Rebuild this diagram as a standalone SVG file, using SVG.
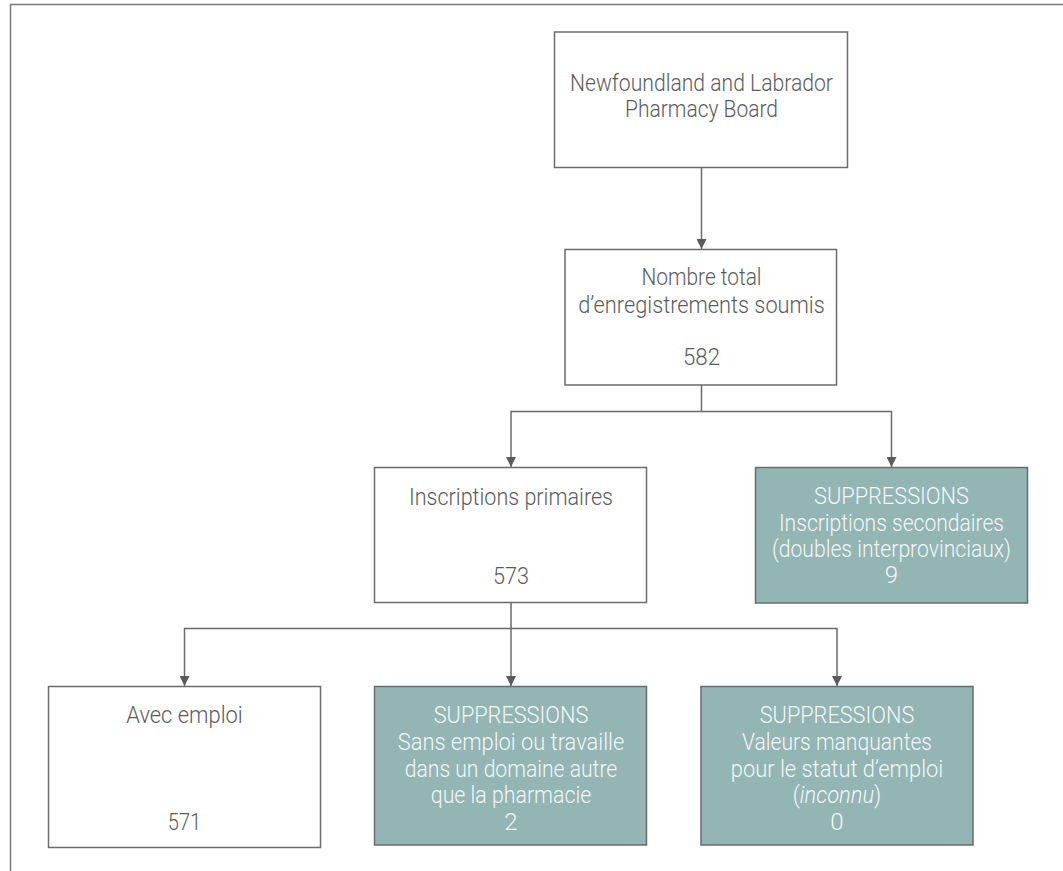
<svg xmlns="http://www.w3.org/2000/svg" width="1063" height="871" viewBox="0 0 1063 871">
<style>
.box{fill:#ffffff;stroke:#6b6b6b;stroke-width:1.5}
.sup{fill:#93b5b4;stroke:#6b6b6b;stroke-width:1.5}
.t{font-family:Roboto,"Liberation Sans",sans-serif;font-weight:300;font-size:24px;text-anchor:middle;fill:#5b5b5b}
.w{fill:#f4f7f7}
.ln{fill:none;stroke:#6b6b6b;stroke-width:1.5}
</style>
<defs>
<marker id="ah" markerWidth="10" markerHeight="10" refX="10" refY="5" orient="auto" markerUnits="userSpaceOnUse" viewBox="0 0 10 10">
<path d="M0,0 L10,5 L0,10 Z" fill="#5b5b5b"/>
</marker>
</defs>
<g id="frame">
<path d="M10.5,871 L10.5,4.5 L1063,4.5" fill="none" stroke="#7a7a7a" stroke-width="1.5"/>
</g>
<g id="connectors">
<line class="ln" x1="701.5" y1="167.5" x2="701.5" y2="249" marker-end="url(#ah)"/>
<polyline class="ln" points="701.5,385 701.5,411.5 511,411.5 511,467" marker-end="url(#ah)"/>
<polyline class="ln" points="701.5,411.5 891.5,411.5 891.5,467" marker-end="url(#ah)"/>
<polyline class="ln" points="511,602.5 511,628.5 184.5,628.5 184.5,686" marker-end="url(#ah)"/>
<line class="ln" x1="511" y1="628.5" x2="511" y2="686" marker-end="url(#ah)"/>
<polyline class="ln" points="511,628.5 837,628.5 837,686" marker-end="url(#ah)"/>
</g>
<g id="n1">
<rect class="box" x="554.5" y="32" width="293" height="135.5"/>
<text class="t" x="701.5" y="90.5" textLength="263" lengthAdjust="spacingAndGlyphs">Newfoundland and Labrador</text>
<text class="t" x="701.5" y="117" textLength="153" lengthAdjust="spacingAndGlyphs">Pharmacy Board</text>
</g>
<g id="n2">
<rect class="box" x="565" y="249.5" width="271.5" height="135.5"/>
<text class="t" x="701.5" y="285" textLength="120" lengthAdjust="spacingAndGlyphs">Nombre total</text>
<text class="t" x="701.5" y="312.5" textLength="246.5" lengthAdjust="spacingAndGlyphs">d’enregistrements soumis</text>
<text class="t" x="701.5" y="365" textLength="37" lengthAdjust="spacingAndGlyphs">582</text>
</g>
<g id="n3">
<rect class="box" x="374.5" y="467.5" width="272" height="135"/>
<text class="t" x="511" y="505" textLength="204" lengthAdjust="spacingAndGlyphs">Inscriptions primaires</text>
<text class="t" x="511" y="584" textLength="36" lengthAdjust="spacingAndGlyphs">573</text>
</g>
<g id="n4">
<rect class="sup" x="755.5" y="467.5" width="272" height="135.5"/>
<text class="t w" x="891.5" y="504" textLength="155" lengthAdjust="spacingAndGlyphs">SUPPRESSIONS</text>
<text class="t w" x="891.5" y="530.5" textLength="225" lengthAdjust="spacingAndGlyphs">Inscriptions secondaires</text>
<text class="t w" x="891.5" y="556.5" textLength="239" lengthAdjust="spacingAndGlyphs">(doubles interprovinciaux)</text>
<text class="t w" x="891.5" y="583">9</text>
</g>
<g id="n5">
<rect class="box" x="48.5" y="686.5" width="272" height="161"/>
<text class="t" x="184.5" y="722.5" textLength="116.5" lengthAdjust="spacingAndGlyphs">Avec emploi</text>
<text class="t" x="184.5" y="830" textLength="33.5" lengthAdjust="spacingAndGlyphs">571</text>
</g>
<g id="n6">
<rect class="sup" x="374.5" y="686.5" width="272" height="158.5"/>
<text class="t w" x="511" y="722.5" textLength="154.5" lengthAdjust="spacingAndGlyphs">SUPPRESSIONS</text>
<text class="t w" x="511" y="749.5" textLength="226.5" lengthAdjust="spacingAndGlyphs">Sans emploi ou travaille</text>
<text class="t w" x="511" y="776.5" textLength="212.5" lengthAdjust="spacingAndGlyphs">dans un domaine autre</text>
<text class="t w" x="511" y="803" textLength="160.5" lengthAdjust="spacingAndGlyphs">que la pharmacie</text>
<text class="t w" x="511" y="830">2</text>
</g>
<g id="n7">
<rect class="sup" x="701" y="686.5" width="272" height="158.5"/>
<text class="t w" x="837" y="722.5" textLength="154.5" lengthAdjust="spacingAndGlyphs">SUPPRESSIONS</text>
<text class="t w" x="837" y="749.5" textLength="190" lengthAdjust="spacingAndGlyphs">Valeurs manquantes</text>
<text class="t w" x="837" y="776.5" textLength="212.5" lengthAdjust="spacingAndGlyphs">pour le statut d’emploi</text>
<text class="t w" x="837" y="803" textLength="88.5" lengthAdjust="spacingAndGlyphs">(<tspan font-style="italic">inconnu</tspan>)</text>
<text class="t w" x="837" y="830">0</text>
</g>
</svg>
